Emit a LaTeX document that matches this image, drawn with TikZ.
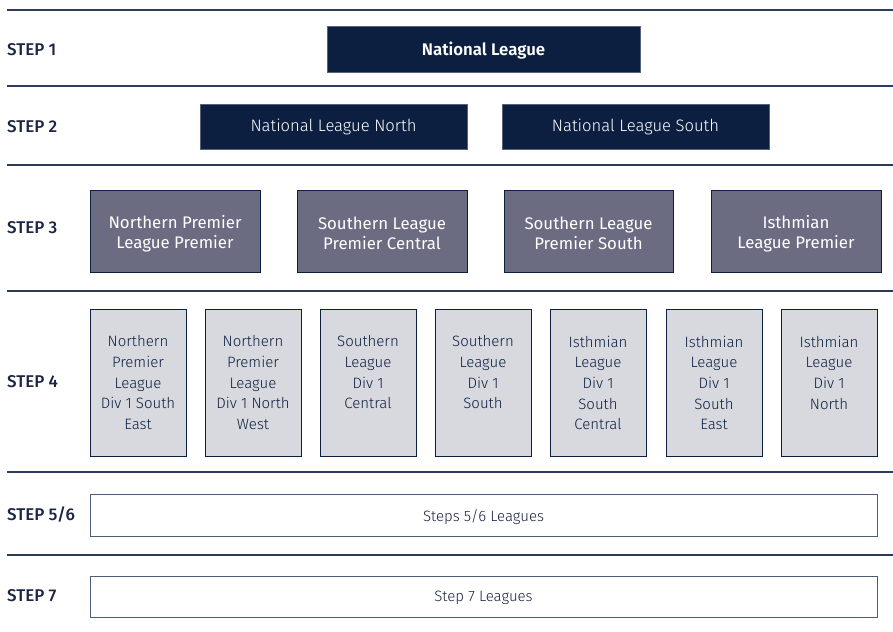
\documentclass[tikz,border=0pt]{standalone}
\usepackage{fontspec}
\setmainfont{Fira Sans}[BoldFont={Fira Sans SemiBold}]
\newfontfamily\lightfont{Fira Sans Light}
\newfontfamily\medfont{Fira Sans Medium}
\definecolor{navy}{HTML}{0C1F40}
\definecolor{slate}{HTML}{6B6B82}
\definecolor{pale}{HTML}{D8D9DF}
\definecolor{rule}{HTML}{2C3B5C}
\definecolor{ink}{HTML}{1B2440}
\definecolor{boxline}{HTML}{4F5C75}
\begin{document}
\begin{tikzpicture}[x=1pt,y=-1pt,
  rowline/.style={draw=rule,line width=1.1pt},
  steplabel/.style={anchor=west,inner sep=0pt,font=\medfont\fontsize{17}{19}\selectfont,text=ink},
  topbox/.style={fill=navy,draw=navy!70!white,line width=0.6pt,text=white,inner sep=0pt},
  midbox/.style={fill=slate,draw=navy,line width=0.8pt,text=white,align=center,inner sep=0pt,font=\fontsize{16.8}{20}\selectfont},
  midtext/.style={align=center,inner sep=0pt,text=white,font=\fontsize{16.8}{20}\selectfont},
  divbox/.style={fill=pale,draw=navy,line width=0.9pt,inner sep=0pt,minimum width=96pt,minimum height=147pt},
  divtext/.style={anchor=north,align=center,inner sep=0pt,text=navy,font=\lightfont\fontsize{15}{20.7}\selectfont},
  lowbox/.style={fill=white,draw=boxline,line width=0.9pt,inner sep=0pt,minimum width=787pt},
  lowtext/.style={inner sep=0pt,text=ink,font=\lightfont\fontsize{15}{17}\selectfont}
]
\useasboundingbox (0,0) rectangle (893,631);
% row lines
\foreach \yy/\nm in {10/la,86/lb,165/lc,291/ld,472/le,555/lf}{
  \coordinate (\nm w) at (7,\yy);
  \coordinate (\nm e) at (893,\yy);
  \draw[rowline] (\nm w) -- (\nm e);
}
% step labels
\node[steplabel] (s1) at (7,49.5) {STEP 1};
\node[steplabel] (s2) at (7,126.5) {STEP 2};
\node[steplabel] (s3) at (7,228) {STEP 3};
\node[steplabel] (s4) at (7,382) {STEP 4};
\node[steplabel] (s5) at (7,515) {STEP 5/6};
\node[steplabel] (s7) at (7,596) {STEP 7};
% step 1
\node[topbox,minimum width=313pt,minimum height=46pt] (nl) at (483.5,49) {};
\node[inner sep=0pt,text=white,font=\bfseries\fontsize{16.8}{18}\selectfont] (nlt) at ([yshift=-2pt]nl.center) {National League};
% step 2
\node[topbox,minimum width=267pt,minimum height=45pt,font=\lightfont\fontsize{16.6}{18}\selectfont] (nln) at (333.5,126.5) {National League North};
\node[topbox,minimum width=267pt,minimum height=45pt,font=\lightfont\fontsize{16.6}{18}\selectfont] (nls) at (635.5,126.5) {National League South};
% step 3
\node[midbox,minimum width=170pt,minimum height=82pt] (npl) at (175,231) {};
\node[midbox,minimum width=170pt,minimum height=82pt] (slc) at (382,231) {};
\node[midbox,minimum width=169pt,minimum height=82pt] (sls) at (588.5,231) {};
\node[midbox,minimum width=170pt,minimum height=82pt] (ilp) at (796,231) {};
\node[midtext] (nplt) at ([yshift=-2.5pt]npl.center) {Northern Premier\\League Premier};
\node[midtext] (slct) at ([yshift=-2.5pt]slc.center) {Southern League\\Premier Central};
\node[midtext] (slst) at ([yshift=-2.5pt]sls.center) {Southern League\\Premier South};
\node[midtext] (ilpt) at ([yshift=-2.5pt]ilp.center) {Isthmian\\League Premier};
% step 4
\foreach \cx/\nm/\txt in {
  138/da/{Northern\\Premier\\League\\Div 1 South\\East},
  253/db/{Northern\\Premier\\League\\Div 1 North\\West},
  368/dc/{Southern\\League\\Div 1\\Central},
  483/dd/{Southern\\League\\Div 1\\South},
  598/de/{Isthmian\\League\\Div 1\\South\\Central},
  714/df/{Isthmian\\League\\Div 1\\South\\East},
  829/dg/{Isthmian\\League\\Div 1\\North}}{
  \node[divbox] (\nm) at (\cx,382.5) {};
  \node[divtext] (\nm t) at ([yshift=-27pt]\nm.north) {\txt};
}
% steps 5/6 and 7
\node[lowbox,minimum height=42pt] (l56) at (483.5,515.5) {};
\node[lowtext] (l56t) at ([yshift=-2pt]l56.center) {Steps 5/6 Leagues};
\node[lowbox,minimum height=41pt] (l7) at (483.5,596.5) {};
\node[lowtext] (l7t) at ([yshift=-1.5pt]l7.center) {Step 7 Leagues};
\end{tikzpicture}
\end{document}
